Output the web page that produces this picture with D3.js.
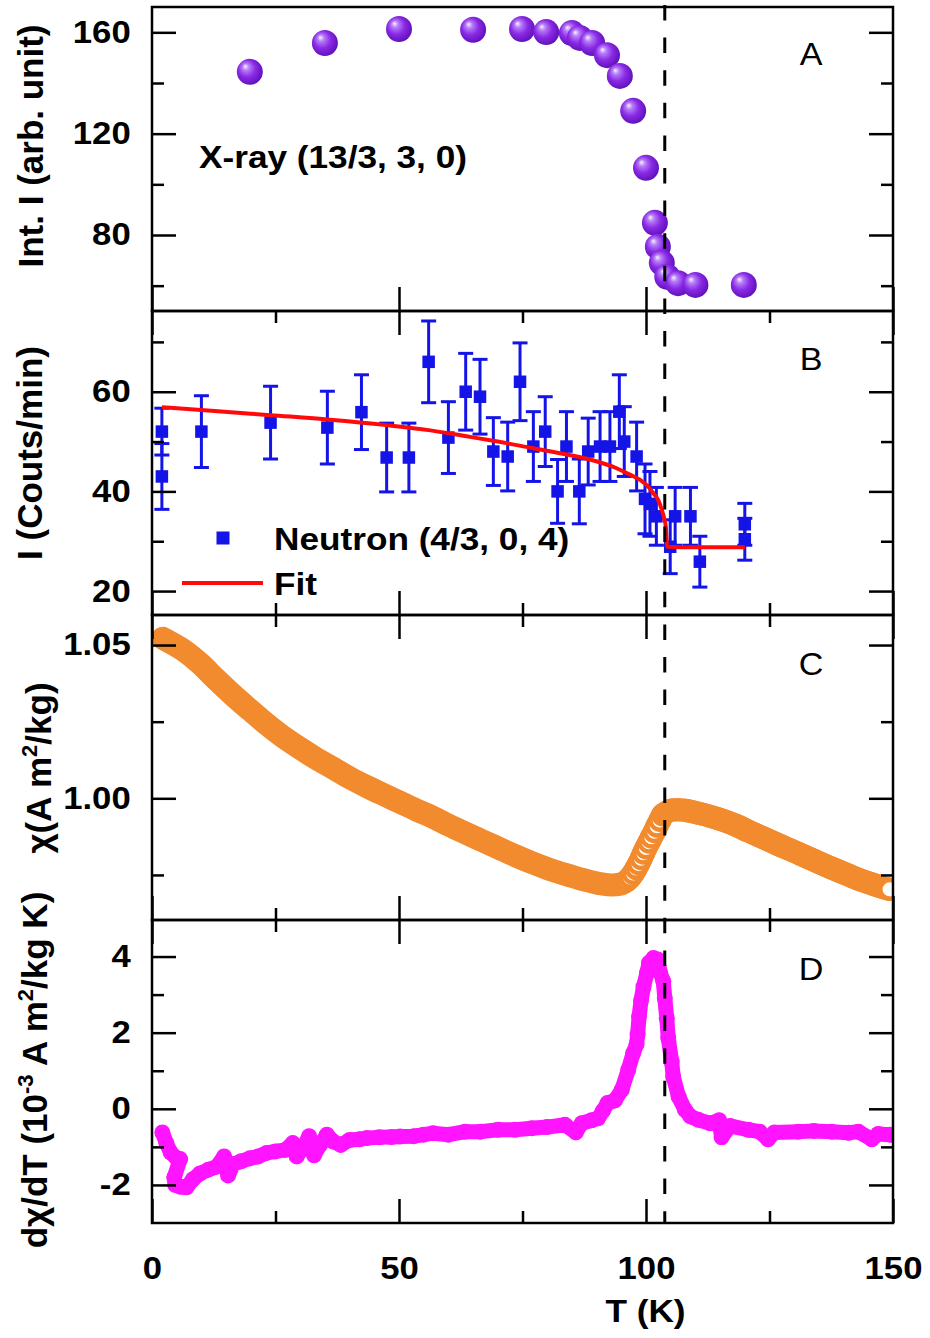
<!DOCTYPE html>
<html>
<head>
<meta charset="utf-8">
<script src="https://cdn.jsdelivr.net/npm/d3@7"></script>
<style>
  body { margin: 0; background: #fff; }
</style>
</head>
<body>
<div id="chart"></div>
<script>
// ---- data ----
// Panel A: X-ray (13/3, 3, 0) integrated intensity
var xrayT = [19.8, 35, 50, 65, 74.9, 79.8, 85, 86.6, 89.1, 92.1, 94.7, 97.4, 100, 101.8, 102.4, 103.2, 104.3, 106.5, 110, 119.8];
var xrayI = [144.4, 155.8, 161.3, 161, 161.3, 160.1, 159.7, 157.8, 155.8, 151, 142.8, 129, 106.5, 84.8, 75.4, 69, 63.5, 61, 60.3, 60.3];

// Panel B: neutron (4/3, 0, 4) intensity with error bars, and the fit
var neutronT = [2, 2, 10, 24, 35.5, 42.4, 47.5, 52, 56, 60, 63.5, 66.4, 69.1, 72, 74.5, 77.2, 79.6, 82.1, 83.9, 86.5, 88.3, 90.7, 92.7, 94.6, 95.6, 98.1, 99.8, 100.8, 102.1, 104.9, 105.9, 109, 110.9, 120, 120];
var neutronI = [52, 43, 52, 53.8, 52.8, 55.9, 46.8, 46.8, 66, 50.8, 60, 59, 48, 47, 62, 49, 52, 40, 49, 40, 48, 49, 49, 56, 50, 47, 38.5, 37.5, 35, 28.9, 35, 35, 25.9, 33.4, 30.4];
var neutronErr = [4.7, 6.6, 7.2, 7.3, 7.3, 7.5, 6.9, 6.9, 8.2, 7.2, 7.7, 7.5, 6.8, 6.9, 7.8, 7, 7, 6.4, 7, 6.5, 6.7, 7, 7, 7.4, 7, 6.9, 7, 6.5, 5.8, 5.4, 5.8, 5.8, 5.1, 4.2, 4.2];
var fitT = [2, 12, 24, 36, 47.5, 56, 63.4, 70, 77, 84, 89, 93.7, 96.5, 98.8, 100.5, 101.5, 102.5, 103.2, 103.7, 104, 104.3, 110, 120];
var fitI = [56.9, 56.2, 55.3, 54.4, 53.3, 52.3, 51.1, 50.0, 48.7, 47.4, 46.3, 44.8, 43.5, 42.3, 40.9, 39.6, 38.2, 36.3, 34.5, 33, 28.9, 28.8, 28.8];

// Panel C: susceptibility chi (A m^2/kg)
var chiT = [2.2, 4, 6.3, 9.7, 13, 16.5, 20, 23.2, 26.5, 30, 33.3, 36.7, 40, 43.5, 47, 50.2, 53.5, 56.9, 60, 63.4, 66.8, 70.1, 73.5, 76.9, 80.2, 83.6, 86.5, 88.7, 91, 93, 94.8,
            96.2, 96.8, 97.4, 98.0, 98.5, 99.0, 99.5, 100.0, 100.6, 101.1, 101.7, 102.2, 102.8, 103.4,
            104.2, 105.2, 106.5, 107.8, 109.2, 111, 113.3, 116, 118.5, 120.7, 123.5, 126.5, 130.8, 134, 137.5, 140.9, 144, 147, 149.3];
var chiV = [1.0522, 1.0506, 1.0484, 1.0440, 1.0388, 1.0335, 1.0286, 1.0242, 1.0201, 1.0163, 1.0129, 1.0098, 1.0067, 1.0038, 1.0011, 0.9987, 0.9962, 0.9938, 0.9913, 0.9887, 0.9862, 0.9838, 0.9813, 0.9790, 0.9770, 0.9752, 0.9738, 0.9729, 0.9721, 0.9717, 0.9720,
            0.9732, 0.9742, 0.9755, 0.9771, 0.9786, 0.9803, 0.9821, 0.9838, 0.9857, 0.9873, 0.9891, 0.9909, 0.9928, 0.9946,
            0.9955, 0.9962, 0.9963, 0.9961, 0.9957, 0.9950, 0.9940, 0.9926, 0.9910, 0.9893, 0.9873, 0.9851, 0.9821, 0.9798, 0.9773, 0.9750, 0.9730, 0.9714, 0.9703];

// Panel D: d chi / dT (1e-3 A m^2/kg K)
var dchiT = [2.1, 2.9, 3.8, 5.0, 5.7, 4.5, 4.7, 5.8, 7.0, 8.3, 9.7, 11.4, 13.1, 14.6, 15.4, 16.5, 18.0, 19.8, 21.5, 23.2, 25.0, 27.0, 28.5, 29.3, 30.5, 31.8, 32.8, 34.0, 35.4, 36.7, 38.2, 40.0, 42.0, 43.5, 46.0, 48.5, 50.2, 53.0, 55.0, 56.9, 60.0, 63.4, 66.5, 70.1, 73.5, 76.9, 80.0, 83.6, 85.8, 87.0, 89.0, 90.3, 91.3, 92.2, 93.7, 95.1, 96.4, 97.4, 98.1, 98.3, 98.6, 99.0, 99.5, 100.2, 100.6, 101.5, 102.4, 102.8, 103.5, 103.8, 104.2, 104.5, 105.2, 105.5, 106.6, 107.9, 109.0, 110.6, 113.0, 114.8, 115.3, 117.0, 120.7, 123.0, 124.7, 126.0, 130.8, 134.0, 137.6, 141.0, 143.0, 145.7, 147.0, 149.4];
var dchiV = [-0.62, -0.9, -1.15, -1.3, -1.32, -1.8, -2.0, -2.05, -2.06, -1.85, -1.7, -1.6, -1.52, -1.25, -1.75, -1.45, -1.38, -1.3, -1.25, -1.16, -1.12, -1.08, -0.9, -1.25, -1.03, -0.72, -1.22, -0.95, -0.68, -0.86, -0.95, -0.82, -0.8, -0.77, -0.75, -0.74, -0.73, -0.72, -0.68, -0.64, -0.68, -0.6, -0.6, -0.55, -0.55, -0.51, -0.48, -0.42, -0.62, -0.38, -0.3, -0.25, -0.05, 0.15, 0.22, 0.5, 1.02, 1.46, 1.7, 1.95, 2.43, 2.85, 3.21, 3.57, 3.83, 3.96, 3.92, 3.61, 3.35, 2.91, 2.38, 1.86, 1.24, 0.85, 0.32, -0.03, -0.2, -0.29, -0.38, -0.3, -0.75, -0.45, -0.55, -0.6, -0.8, -0.62, -0.6, -0.58, -0.6, -0.63, -0.6, -0.8, -0.66, -0.68];

// transition temperature marked by the dashed line
var transitionT = 103.8;

// tick values
var xTicksMajor = [0, 50, 100, 150];
var xTicksMinor = [25, 75, 125];
var yTicksA = [80, 120, 160], yMinorA = [60, 100, 140];
var yTicksB = [20, 40, 60], yMinorB = [30, 50, 70];
var yTicksC = [1.00, 1.05], yMinorC = [0.975, 1.025];
var yTicksD = [-2, 0, 2, 4], yMinorD = [-1, 1, 3];

// ---- layout ----
var font = "'Liberation Sans', Arial, Helvetica, sans-serif";
var left = 152, right = 893;
var tops = [7, 311, 615, 920], bottoms = [311, 615, 920, 1223];
var majorLen = 24, minorLen = 12;

var svg = d3.select("#chart")
    .append("svg")
    .attr("width", 930)
    .attr("height", 1338)
    .style("font-family", font);

svg.append("rect").attr("width", 930).attr("height", 1338).attr("fill", "#fff");

var x = d3.scaleLinear().domain([0, 150]).range([left, right]);
var yA = d3.scaleLinear().domain([50, 170]).range([bottoms[0], tops[0]]);
var yB = d3.scaleLinear().domain([15.2, 76.2]).range([bottoms[1], tops[1]]);
var yC = d3.scaleLinear().domain([0.9603, 1.0598]).range([bottoms[2], tops[2]]);
var yD = d3.scaleLinear().domain([-3.0, 4.96]).range([bottoms[3], tops[3]]);

var defs = svg.append("defs");
tops.forEach(function (t, i) {
    defs.append("clipPath").attr("id", "clip" + i)
        .append("rect")
        .attr("x", left).attr("y", t)
        .attr("width", right - left).attr("height", bottoms[i] - t);
});

// shaded sphere for the X-ray points
var grad = defs.append("radialGradient").attr("id", "sphere")
    .attr("cx", "45%").attr("cy", "45%").attr("r", "60%")
    .attr("fx", "32%").attr("fy", "28%");
grad.append("stop").attr("offset", "0%").attr("stop-color", "#fbf2ff");
grad.append("stop").attr("offset", "22%").attr("stop-color", "#b57cf7");
grad.append("stop").attr("offset", "55%").attr("stop-color", "#8a2ae6");
grad.append("stop").attr("offset", "100%").attr("stop-color", "#5a0eb4");

// ---- Panel A ----
var gA = svg.append("g").attr("clip-path", "url(#clip0)");
gA.selectAll("circle")
    .data(d3.zip(xrayT, xrayI))
    .enter()
    .append("circle")
    .attr("cx", function (d) { return x(d[0]); })
    .attr("cy", function (d) { return yA(d[1]); })
    .attr("r", 13)
    .attr("fill", "url(#sphere)");

// ---- Panel B ----
var blue = "#1414e8";
var gB = svg.append("g").attr("clip-path", "url(#clip1)");
var neutron = d3.zip(neutronT, neutronI, neutronErr);
var bars = gB.selectAll(".err").data(neutron).enter().append("g").attr("class", "err")
    .attr("stroke", blue).attr("stroke-width", 3);
bars.append("line")
    .attr("x1", function (d) { return x(d[0]); }).attr("x2", function (d) { return x(d[0]); })
    .attr("y1", function (d) { return yB(d[1] + d[2]); }).attr("y2", function (d) { return yB(d[1] - d[2]); });
bars.append("line")
    .attr("x1", function (d) { return x(d[0]) - 7.5; }).attr("x2", function (d) { return x(d[0]) + 7.5; })
    .attr("y1", function (d) { return yB(d[1] + d[2]); }).attr("y2", function (d) { return yB(d[1] + d[2]); });
bars.append("line")
    .attr("x1", function (d) { return x(d[0]) - 7.5; }).attr("x2", function (d) { return x(d[0]) + 7.5; })
    .attr("y1", function (d) { return yB(d[1] - d[2]); }).attr("y2", function (d) { return yB(d[1] - d[2]); });
gB.selectAll(".sq").data(neutron).enter().append("rect").attr("class", "sq")
    .attr("x", function (d) { return x(d[0]) - 6.25; })
    .attr("y", function (d) { return yB(d[1]) - 6.25; })
    .attr("width", 12.5).attr("height", 12.5)
    .attr("fill", blue);

var fitLine = d3.line()
    .x(function (d) { return x(d[0]); })
    .y(function (d) { return yB(d[1]); })
    .curve(d3.curveMonotoneX);
gB.append("path")
    .datum(d3.zip(fitT, fitI))
    .attr("d", fitLine)
    .attr("fill", "none")
    .attr("stroke", "#ff0a0a")
    .attr("stroke-width", 4);

// ---- Panel C ----
var orange = "#f28a2e";
var gC = svg.append("g").attr("clip-path", "url(#clip2)");
var chi = d3.zip(chiT, chiV);
var chiLine = d3.line()
    .x(function (d) { return x(d[0]); })
    .y(function (d) { return yC(d[1]); })
    .curve(d3.curveMonotoneX);
gC.append("path").datum(chi).attr("d", chiLine)
    .attr("fill", "none").attr("stroke", orange)
    .attr("stroke-width", 23).attr("stroke-linecap", "round").attr("stroke-linejoin", "round");
// open circles visible where the curve rises steeply
gC.selectAll(".ring")
    .data(chi.filter(function (d) { return d[0] >= 96 && d[0] <= 103.5; }))
    .enter().append("circle").attr("class", "ring")
    .attr("cx", function (d) { return x(d[0]); })
    .attr("cy", function (d) { return yC(d[1]); })
    .attr("r", 9.3)
    .attr("fill", "#fff").attr("stroke", orange).attr("stroke-width", 4.4);
gC.append("path").datum(chi.filter(function (d) { return d[0] >= 103.4; })).attr("d", chiLine)
    .attr("fill", "none").attr("stroke", orange)
    .attr("stroke-width", 23).attr("stroke-linecap", "round").attr("stroke-linejoin", "round");
var lastChi = chi[chi.length - 1];
gC.append("circle")
    .attr("cx", x(lastChi[0])).attr("cy", yC(lastChi[1]))
    .attr("r", 8.5).attr("fill", "#fff").attr("stroke", orange).attr("stroke-width", 3);

// ---- Panel D ----
var magenta = "#ff14ff";
var gD = svg.append("g").attr("clip-path", "url(#clip3)");
var dchi = d3.zip(dchiT, dchiV);
gD.append("path").datum(dchi)
    .attr("d", d3.line().x(function (d) { return x(d[0]); }).y(function (d) { return yD(d[1]); }))
    .attr("fill", "none").attr("stroke", magenta)
    .attr("stroke-width", 15).attr("stroke-linecap", "round").attr("stroke-linejoin", "round");
gD.selectAll("circle").data(dchi).enter().append("circle")
    .attr("cx", function (d) { return x(d[0]); })
    .attr("cy", function (d) { return yD(d[1]); })
    .attr("r", 8)
    .attr("fill", magenta);

// ---- frames and axes ----
tops.forEach(function (t, i) {
    svg.append("rect")
        .attr("x", left).attr("y", t)
        .attr("width", right - left).attr("height", bottoms[i] - t)
        .attr("fill", "none").attr("stroke", "#000").attr("stroke-width", 2.5);
});

function addAxis(gen, scale, values, len, tx, ty, fmt, pad) {
    var ax = gen(scale).tickValues(values).tickSize(-len).tickPadding(pad || 0)
        .tickFormat(fmt || function () { return ""; });
    var g = svg.append("g")
        .attr("transform", "translate(" + tx + "," + ty + ")")
        .call(ax);
    g.select(".domain").remove();
    g.selectAll(".tick line").attr("stroke", "#000").attr("stroke-width", 2.5);
    g.selectAll(".tick text")
        .attr("fill", "#000")
        .style("font-family", font)
        .style("font-size", "31px")
        .style("font-weight", "bold")
        .attr("transform", "scale(1.12,1)");
    return g;
}

var yScales = [yA, yB, yC, yD];
var yMajor = [yTicksA, yTicksB, yTicksC, yTicksD];
var yMinor = [yMinorA, yMinorB, yMinorC, yMinorD];
var yFormat = [d3.format("d"), d3.format("d"), d3.format(".2f"), function (d) { return String(d); }];

yScales.forEach(function (y, i) {
    addAxis(d3.axisLeft, y, yMajor[i], majorLen, left, 0, yFormat[i], 19);
    addAxis(d3.axisLeft, y, yMinor[i], minorLen, left, 0);
    addAxis(d3.axisRight, y, yMajor[i], majorLen, right, 0);
    addAxis(d3.axisRight, y, yMinor[i], minorLen, right, 0);

    // top edge: no ticks on panel A
    if (i > 0) {
        addAxis(d3.axisTop, x, xTicksMajor, majorLen, 0, tops[i]);
        addAxis(d3.axisTop, x, xTicksMinor, minorLen, 0, tops[i]);
    }
    // bottom edge: panel A carries only the major ticks
    addAxis(d3.axisBottom, x, xTicksMajor, majorLen, 0, bottoms[i], i === 3 ? d3.format("d") : null, 34);
    if (i > 0) addAxis(d3.axisBottom, x, xTicksMinor, minorLen, 0, bottoms[i]);
});

// dashed line at the transition
svg.append("line")
    .attr("x1", x(transitionT)).attr("x2", x(transitionT))
    .attr("y1", 5).attr("y2", bottoms[3])
    .attr("stroke", "#000").attr("stroke-width", 3)
    .attr("stroke-dasharray", "15.5 17.1");

// ---- texts ----
function addText(tx, ty, str, size, weight, anchor) {
    return svg.append("text")
        .attr("transform", "translate(" + tx + "," + ty + ") scale(1.1,1)")
        .attr("text-anchor", anchor || "start")
        .style("font-size", size + "px")
        .style("font-weight", weight)
        .text(str);
}

function addYLabel(tx, ty, parts) {
    var t = svg.append("text")
        .attr("transform", "translate(" + tx + "," + ty + ") rotate(-90)")
        .attr("text-anchor", "middle")
        .style("font-size", "35px")
        .style("font-weight", "bold");
    parts.forEach(function (p) {
        var s = t.append("tspan").text(p[0]);
        if (p[1] === "sup") {
            s.style("font-size", "22px").attr("dy", -14);
        } else if (p[1] === "down") {
            s.attr("dy", 14);
        }
    });
    return t;
}

addYLabel(43, 146, [["Int. I (arb. unit)"]]);
addYLabel(42, 453, [["I (Couts/min)"]]);
addYLabel(51, 768, [["\u03c7(A m"], ["2", "sup"], ["/kg)", "down"]]);
addYLabel(47, 1070, [["d\u03c7/dT (10"], ["-3", "sup"], [" A m", "down"], ["2", "sup"], ["/kg K)", "down"]]);

addText(x(75) + 123, 1322, "T (K)", 32, "bold", "middle");

addText(199, 168, "X-ray (13/3, 3, 0)", 32, "bold");

// panel letters
var letters = ["A", "B", "C", "D"];
var letterBase = [65, 370, 675, 980];
letters.forEach(function (l, i) {
    addText(811, letterBase[i], l, 31, "normal", "middle");
});

// legend of panel B
svg.append("rect").attr("x", 216.5).attr("y", 531.5).attr("width", 13).attr("height", 13).attr("fill", blue);
addText(274, 550, "Neutron (4/3, 0, 4)", 32, "bold");
svg.append("line").attr("x1", 182).attr("x2", 263).attr("y1", 583).attr("y2", 583)
    .attr("stroke", "#ff0a0a").attr("stroke-width", 4);
addText(274, 595, "Fit", 32, "bold");
</script>
</body>
</html>
